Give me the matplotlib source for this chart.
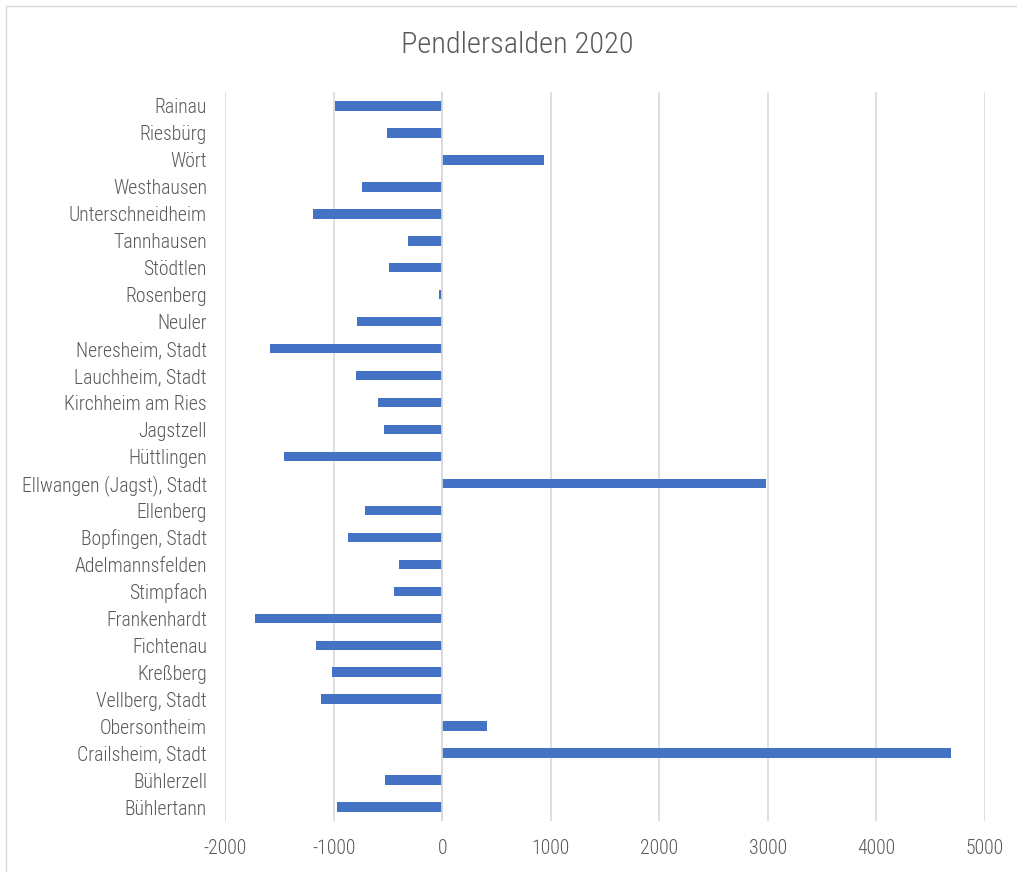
import matplotlib
matplotlib.use("Agg")
import matplotlib.pyplot as plt
from matplotlib import font_manager as fm
from matplotlib.patches import Rectangle

categories = ["Rainau", "Riesbürg", "Wört", "Westhausen", "Unterschneidheim",
              "Tannhausen", "Stödtlen", "Rosenberg", "Neuler", "Neresheim, Stadt",
              "Lauchheim, Stadt", "Kirchheim am Ries", "Jagstzell", "Hüttlingen",
              "Ellwangen (Jagst), Stadt", "Ellenberg", "Bopfingen, Stadt",
              "Adelmannsfelden", "Stimpfach", "Frankenhardt", "Fichtenau",
              "Kreßberg", "Vellberg, Stadt", "Obersontheim", "Crailsheim, Stadt",
              "Bühlerzell", "Bühlertann"]
values = [-986, -512, 934, -734, -1194, -319, -491, -28, -783, -1588,
          -789, -590, -535, -1456, 2983, -706, -866, -396, -442, -1720,
          -1161, -1019, -1112, 412, 4686, -522, -968]
xticks = [-2000, -1000, 0, 1000, 2000, 3000, 4000, 5000]
title = "Pendlersalden 2020"

names = {f.name for f in fm.fontManager.ttflist}
fam = []
for cand in ["Roboto Condensed", "Liberation Sans Narrow", "Roboto"]:
    if cand in names:
        fam.append(cand)
fam.append("DejaVu Sans")
plt.rcParams['font.family'] = fam

grey = "#595959"
fig = plt.figure(figsize=(10.17, 8.72), dpi=100)
W, H = 1017, 872
ax = fig.add_axes([225 / W, 1 - 820.5 / H, (985 - 225) / W, (820.5 - 92.5) / H])

n = len(categories)
ypos = list(range(n))
ax.barh(ypos, values, height=0.35, color="#4472C4", zorder=3)
ax.set_ylim(n - 0.5, -0.5)
ax.set_xlim(-2000, 5000)
ax.set_yticks(ypos)
ax.set_yticklabels(categories, color=grey, fontsize=14.2, fontweight="light")
ax.set_xticks(xticks)
ax.set_xticklabels([str(t) for t in xticks], color=grey, fontsize=14.2, fontweight="light")
ax.tick_params(axis="both", length=0)
ax.tick_params(axis="y", pad=13)
ax.tick_params(axis="x", pad=13)
ax.grid(axis="x", color="#D9D9D9", linewidth=1.2, zorder=0)
for s in ax.spines.values():
    s.set_visible(False)
ax.axvline(0, color="#D9D9D9", linewidth=1.2, zorder=4)

fig.text(517 / W, 1 - 45 / H, title, ha="center", va="center", color=grey, fontsize=21.9,
         fontweight="light")
fig.patches.append(Rectangle((6 / W, -0.1), 1.2, 1 - 6 / H + 0.1, transform=fig.transFigure,
                             fill=False, edgecolor="#D9D9D9", linewidth=1))

fig.savefig("out.png", dpi=100, facecolor="white")
